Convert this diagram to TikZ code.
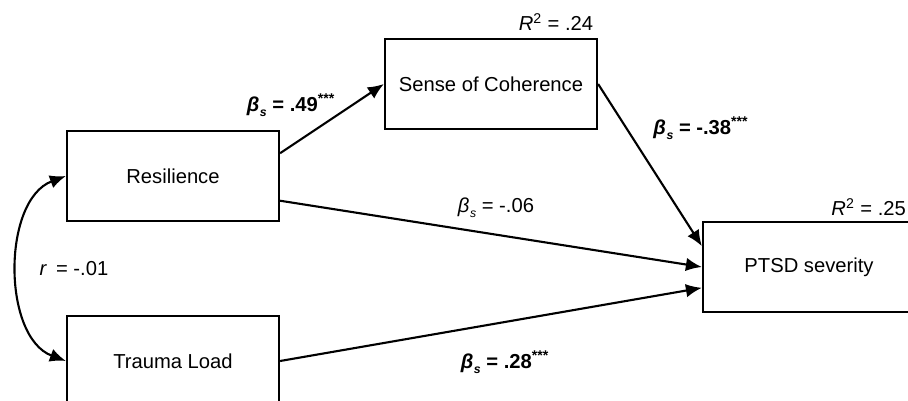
\documentclass[tikz,border=0pt]{standalone}
\usepackage{fontspec}
\setmainfont{Liberation Sans}
\usetikzlibrary{arrows.meta}

\newcommand{\betas}{\textit{β}\kern0.03em\raisebox{-0.45ex}{\scriptsize\textit{s}}}
\newcommand{\stars}{\textsuperscript{***}}

\begin{document}
\begin{tikzpicture}[x=0.02cm, y=-0.02cm,
    every node/.style={font=\fontsize{11.5}{13}\selectfont},
    varbox/.style={draw, line width=1.3pt, minimum width=4.24cm, minimum height=1.8cm},
    effect/.style={line width=1.2pt, -{Latex[length=0.32cm, width=0.27cm]}}]

    \useasboundingbox (0,0) rectangle (908,401);

    % Variables
    \node[varbox] (res) at (173,176) {Resilience};
    \node[varbox] (trauma) at (173,361) {Trauma Load};
    \node[varbox] (soc) at (491,84) {Sense of Coherence};
    \node[varbox] (ptsd) at (809,267) {PTSD severity};

    % Explained variance
    \node at (556,22) {\textit{R}\textsuperscript{2} = .24};
    \node[anchor=east, inner xsep=1pt] at (908,207) {\textit{R}\textsuperscript{2} = .25};

    % Paths
    \draw[effect] (res.12) -- (soc.west);
    \draw[effect] (soc.east) -- (ptsd.169);
    \draw[effect] (res.-13) -- (ptsd.west);
    \draw[effect] (trauma.east) -- (ptsd.191);

    % Correlation
    \draw[effect, {Latex[length=0.32cm, width=0.27cm]}-{Latex[length=0.32cm, width=0.27cm]}]
      (res.west) .. controls (2,200) and (2,337) .. (trauma.west);

    % Coefficients
    \node at (291,105) {\textbf{\betas{} = .49\stars}};
    \node at (701,128) {\textbf{\betas{} = -.38\stars}};
    \node at (496,208) {\betas{} = -.06};
    \node at (505,362) {\textbf{\betas{} = .28\stars}};
    \node at (74,269) {\textit{r}\, = -.01};

\end{tikzpicture}
\end{document}
